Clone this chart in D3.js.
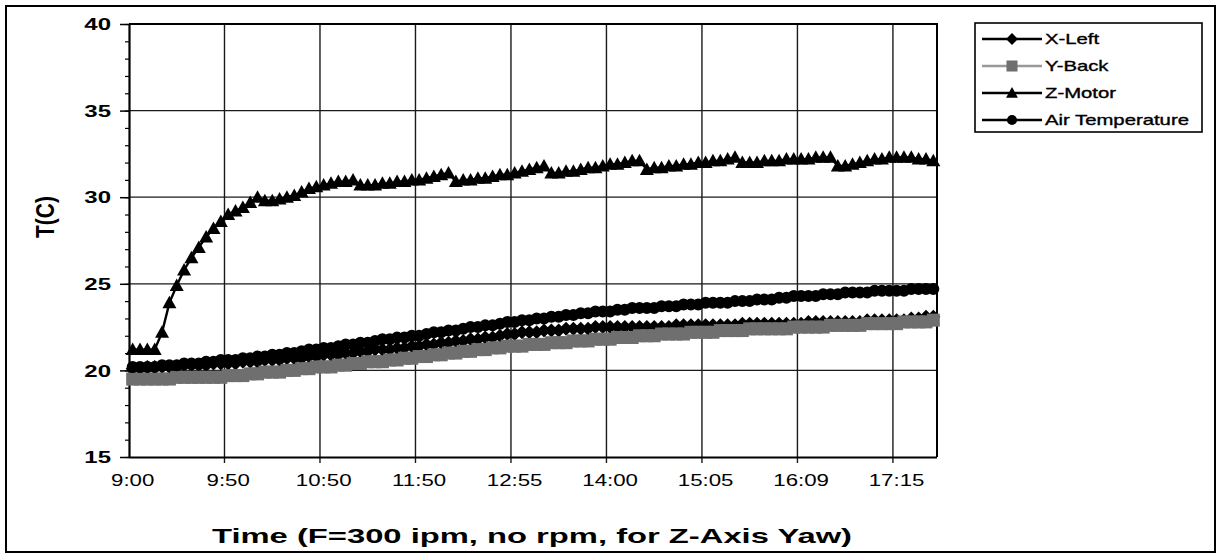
<!DOCTYPE html>
<html>
<head>
<meta charset="utf-8">
<script src="https://cdn.jsdelivr.net/npm/d3@7"></script>
<style>
  body { margin: 0; background: #fff; }
  svg { display: block; }
  text { font-family: "Liberation Sans", Arial, sans-serif; fill: #000; }
</style>
</head>
<body>
<svg id="chart" width="1219" height="558"></svg>
<script>
// Sample index of each labelled time on the category axis
const tickIndex = [0, 13, 26, 39, 52, 65, 78, 91, 104];
const tickLabels = ["9:00", "9:50", "10:50", "11:50", "12:55", "14:00", "15:05", "16:09", "17:15"];
const yTicks = [15, 20, 25, 30, 35, 40];
const seriesNames = ["X-Left", "Y-Back", "Z-Motor", "Air Temperature"];

// Temperatures (°C), one reading per sample
const xLeft = [
  20.1,20.1,20.2,20.2,20.2,20.2,20.2,20.3,20.3,20.3,
  20.3,20.4,20.4,20.4,20.4,20.5,20.5,20.5,20.6,20.6,
  20.6,20.7,20.7,20.7,20.8,20.8,20.9,20.9,20.9,21.0,
  21.0,21.1,21.1,21.2,21.2,21.2,21.3,21.3,21.4,21.4,
  21.5,21.5,21.6,21.6,21.7,21.7,21.8,21.8,21.9,21.9,
  22.0,22.1,22.1,22.2,22.2,22.2,22.3,22.3,22.3,22.4,
  22.4,22.4,22.4,22.5,22.5,22.5,22.5,22.5,22.5,22.5,
  22.5,22.5,22.5,22.5,22.6,22.6,22.6,22.6,22.6,22.6,
  22.6,22.6,22.6,22.7,22.7,22.7,22.7,22.7,22.7,22.7,
  22.7,22.7,22.8,22.8,22.8,22.8,22.8,22.8,22.8,22.8,
  22.9,22.9,22.9,22.9,22.9,22.9,23.0,23.0,23.1,23.1
];
const yBack = [
  19.5,19.5,19.5,19.5,19.5,19.5,19.6,19.6,19.6,19.6,
  19.6,19.6,19.6,19.7,19.7,19.7,19.8,19.8,19.9,19.9,
  19.9,20.0,20.0,20.1,20.1,20.2,20.2,20.2,20.3,20.3,
  20.4,20.4,20.5,20.5,20.5,20.6,20.6,20.7,20.7,20.8,
  20.8,20.9,20.9,21.0,21.0,21.1,21.1,21.2,21.2,21.3,
  21.3,21.4,21.4,21.4,21.5,21.5,21.5,21.6,21.6,21.6,
  21.7,21.7,21.7,21.8,21.8,21.8,21.9,21.9,21.9,22.0,
  22.0,22.0,22.1,22.1,22.1,22.1,22.2,22.2,22.2,22.2,
  22.3,22.3,22.3,22.3,22.4,22.4,22.4,22.4,22.4,22.4,
  22.5,22.5,22.5,22.5,22.5,22.6,22.6,22.6,22.6,22.6,
  22.7,22.7,22.7,22.7,22.7,22.8,22.8,22.8,22.8,22.9
];
const zMotor = [
  21.2,21.2,21.2,21.2,22.2,23.9,24.9,25.8,26.5,27.1,
  27.7,28.2,28.6,29.0,29.2,29.4,29.7,30.0,29.8,29.8,
  29.9,30.0,30.1,30.3,30.5,30.6,30.7,30.8,30.9,30.9,
  31.0,30.7,30.7,30.7,30.8,30.8,30.9,30.9,31.0,31.0,
  31.1,31.2,31.3,31.4,30.9,31.0,31.0,31.1,31.1,31.2,
  31.3,31.3,31.4,31.5,31.6,31.7,31.8,31.4,31.4,31.5,
  31.5,31.6,31.7,31.7,31.8,31.9,31.9,32.0,32.1,32.1,
  31.6,31.7,31.7,31.8,31.8,31.9,31.9,32.0,32.0,32.1,
  32.1,32.2,32.3,32.0,32.0,32.0,32.1,32.1,32.1,32.2,
  32.2,32.2,32.2,32.3,32.3,32.3,31.8,31.8,31.9,32.0,
  32.1,32.2,32.2,32.3,32.3,32.3,32.3,32.2,32.2,32.1
];
const airTemp = [
  20.2,20.2,20.2,20.2,20.3,20.3,20.3,20.4,20.4,20.4,
  20.5,20.5,20.6,20.6,20.6,20.7,20.7,20.8,20.8,20.9,
  20.9,21.0,21.0,21.1,21.2,21.2,21.3,21.3,21.4,21.5,
  21.5,21.6,21.6,21.7,21.8,21.8,21.9,21.9,22.0,22.0,
  22.1,22.2,22.2,22.3,22.3,22.4,22.5,22.5,22.6,22.6,
  22.7,22.8,22.8,22.9,22.9,23.0,23.0,23.1,23.1,23.2,
  23.2,23.3,23.3,23.4,23.4,23.4,23.5,23.5,23.6,23.6,
  23.6,23.6,23.7,23.7,23.7,23.8,23.8,23.8,23.9,23.9,
  23.9,23.9,24.0,24.0,24.0,24.1,24.1,24.1,24.2,24.2,
  24.3,24.3,24.3,24.3,24.4,24.4,24.4,24.5,24.5,24.5,
  24.5,24.6,24.6,24.6,24.6,24.6,24.7,24.7,24.7,24.7
];

const plot = { left: 129, right: 937, top: 24, bottom: 457 };
const svg = d3.select("#chart");

const x = d3.scaleBand()
  .domain(d3.range(zMotor.length))
  .range([plot.left, plot.right])
  .paddingInner(0).paddingOuter(0);
const cx = i => x(i) + x.bandwidth() / 2;
const y = d3.scaleLinear().domain([15, 40]).range([plot.bottom, plot.top]);

// Outer frame
svg.append("rect")
  .attr("x", 6).attr("y", 6).attr("width", 1209).attr("height", 546)
  .attr("fill", "none").attr("stroke", "#000").attr("stroke-width", 2);

// Horizontal gridlines
svg.append("g").selectAll("line")
  .data(yTicks.filter(v => v > 15 && v < 40))
  .join("line")
  .attr("x1", plot.left).attr("x2", plot.right)
  .attr("y1", d => y(d)).attr("y2", d => y(d))
  .attr("stroke", "#1a1a1a").attr("stroke-width", 1.2);

// Vertical gridlines on category boundaries
const gridIdx = tickIndex.filter(i => i > 0);
svg.append("g").selectAll("line")
  .data(gridIdx)
  .join("line")
  .attr("x1", d => x(d)).attr("x2", d => x(d))
  .attr("y1", plot.top).attr("y2", plot.bottom + 6)
  .attr("stroke", "#1a1a1a").attr("stroke-width", 1.4);

// Plot frame: top and right edges
svg.append("path")
  .attr("d", `M${plot.left},${plot.top}H${plot.right}V${plot.bottom}`)
  .attr("fill", "none").attr("stroke", "#000").attr("stroke-width", 2);

// Y axis: minor ticks every degree, major ticks with labels every 5
const yMinor = svg.append("g")
  .attr("transform", `translate(${plot.left},0)`)
  .call(d3.axisLeft(y).tickValues(d3.range(15, 41, 1)).tickSize(4).tickFormat(""));
yMinor.select(".domain").remove();
yMinor.selectAll("line").attr("stroke", "#000").attr("stroke-width", 1.2);

const yAxis = svg.append("g")
  .attr("transform", `translate(${plot.left},0)`)
  .call(d3.axisLeft(y).tickValues(yTicks).tickSize(9).tickPadding(0));
yAxis.select(".domain").attr("stroke", "#000").attr("stroke-width", 2.2)
  .attr("d", `M0.5,${plot.top}V${plot.bottom}`);
yAxis.selectAll(".tick line").attr("stroke", "#000").attr("stroke-width", 1.5);
yAxis.selectAll(".tick text")
  .attr("x", -18 / 1.5)
  .attr("dy", "0.36em")
  .attr("transform", "scale(1.5,1)")
  .style("font-size", "16px").style("font-weight", "bold")
  .style("font-family", "'Liberation Sans', Arial, sans-serif")
  .attr("fill", "#000");

// X axis: labels centred on their sample, ticks on boundaries
const xAxis = svg.append("g")
  .attr("transform", `translate(0,${plot.bottom})`)
  .call(d3.axisBottom(x).tickValues(tickIndex)
    .tickFormat(i => tickLabels[tickIndex.indexOf(i)]).tickSize(0));
xAxis.select(".domain").attr("stroke", "#000").attr("stroke-width", 2.2)
  .attr("d", `M${plot.left},0.5H${plot.right}`);
xAxis.selectAll(".tick text")
  .attr("y", 17).attr("dy", "0.71em")
  .attr("transform", "scale(1.35,1)")
  .style("font-size", "16.5px")
  .style("font-family", "'Liberation Sans', Arial, sans-serif")
  .attr("fill", "#000");

// Marker shapes
const shapes = {
  diamond: "M0,-7L7,0L0,7L-7,0Z",
  square: "M-6.5,-6.5H6.5V6.5H-6.5Z",
  triangle: "M0,-7L7,5.5L-7,5.5Z",
  circle: d3.symbol(d3.symbolCircle, 113)()
};

const series = [
  { name: seriesNames[0], values: xLeft,   line: "#000",    fill: "#000",    shape: shapes.diamond },
  { name: seriesNames[1], values: yBack,   line: "#868686", fill: "#6f6f6f", shape: shapes.square },
  { name: seriesNames[2], values: zMotor,  line: "#000",    fill: "#000",    shape: shapes.triangle },
  { name: seriesNames[3], values: airTemp, line: "#000",    fill: "#000",    shape: shapes.circle }
];

const line = d3.line().x((d, i) => cx(i)).y(d => y(d));

series.forEach(s => {
  const g = svg.append("g");
  g.append("path")
    .attr("d", line(s.values))
    .attr("fill", "none").attr("stroke", s.line).attr("stroke-width", 2.4);
  g.selectAll("path.mk")
    .data(s.values)
    .join("path")
    .attr("class", "mk")
    .attr("d", s.shape)
    .attr("transform", (d, i) => `translate(${cx(i)},${y(d)})`)
    .attr("fill", s.fill);
});

// Legend
const lg = svg.append("g");
lg.append("rect")
  .attr("x", 975).attr("y", 23).attr("width", 227).attr("height", 109)
  .attr("fill", "#fff").attr("stroke", "#000").attr("stroke-width", 1.6);
const legendY = d3.scalePoint().domain(seriesNames).range([39, 120]);
series.forEach(s => {
  const yy = legendY(s.name);
  lg.append("line").attr("x1", 982).attr("x2", 1042).attr("y1", yy).attr("y2", yy)
    .attr("stroke", s.line === "#000" ? "#000" : "#999").attr("stroke-width", 2.4);
  lg.append("path").attr("d", s.shape)
    .attr("transform", `translate(1012,${yy}) scale(0.85)`).attr("fill", s.fill);
  lg.append("text")
    .attr("transform", `translate(1045,${yy}) scale(1.4,1)`)
    .attr("dy", "0.36em")
    .style("font-size", "14.5px")
    .style("stroke", "#000").style("stroke-width", 0.35)
    .text(s.name);
});

// Axis titles
svg.append("text")
  .attr("transform", "translate(45,217) scale(1.2,1) rotate(-90)")
  .attr("text-anchor", "middle").attr("dy", "0.35em")
  .style("font-size", "21px").style("font-weight", "bold")
  .text("T(C)");

const xTitle = svg.append("text")
  .attr("text-anchor", "middle").attr("dy", "0.35em")
  .style("font-size", "21px").style("font-weight", "bold")
  .text("Time (F=300 ipm, no rpm, for Z-Axis Yaw)");
const tw = xTitle.node().getComputedTextLength();
xTitle.attr("transform", `translate(532,536) scale(${640 / tw},1)`);
</script>
</body>
</html>
